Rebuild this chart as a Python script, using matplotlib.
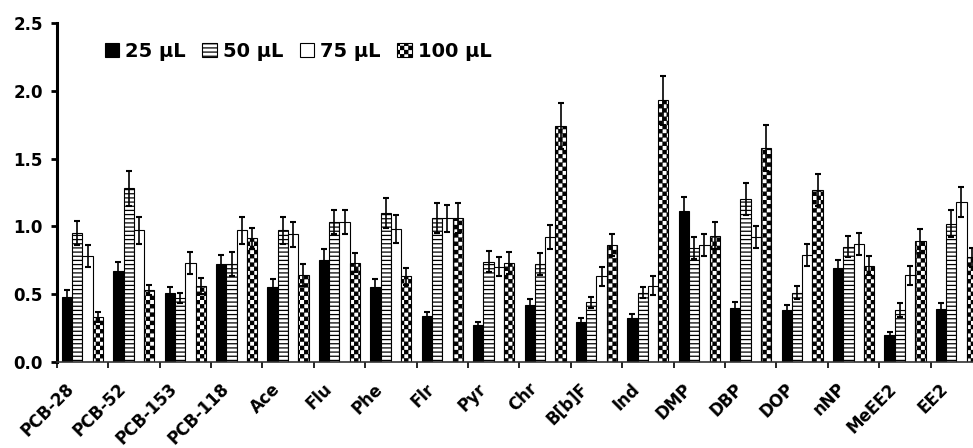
import numpy as np
import matplotlib
matplotlib.use("Agg")
import matplotlib.pyplot as plt
from matplotlib import hatch as mhatch
from matplotlib.path import Path

compounds = ['PCB-28', 'PCB-52', 'PCB-153', 'PCB-118', 'Ace', 'Flu', 'Phe', 'Flr', 'Pyr',
             'Chr', 'B[b]F', 'Ind', 'DMP', 'DBP', 'DOP', 'nNP', 'MeEE2', 'EE2']
volumes = ['25 μL', '50 μL', '75 μL', '100 μL']

vol_25 = [0.48, 0.67, 0.51, 0.72, 0.55, 0.75, 0.55, 0.34, 0.27, 0.42, 0.29, 0.32, 1.11, 0.40, 0.38, 0.69, 0.20, 0.39]
err_25 = [0.05, 0.07, 0.04, 0.07, 0.06, 0.08, 0.06, 0.03, 0.02, 0.04, 0.03, 0.03, 0.11, 0.04, 0.04, 0.06, 0.02, 0.04]
vol_50 = [0.95, 1.28, 0.47, 0.72, 0.97, 1.03, 1.10, 1.06, 0.74, 0.72, 0.44, 0.51, 0.84, 1.20, 0.51, 0.85, 0.38, 1.02]
err_50 = [0.09, 0.13, 0.04, 0.09, 0.10, 0.09, 0.11, 0.11, 0.08, 0.08, 0.04, 0.04, 0.08, 0.12, 0.05, 0.08, 0.05, 0.10]
vol_75 = [0.78, 0.97, 0.73, 0.97, 0.94, 1.03, 0.98, 1.06, 0.70, 0.92, 0.63, 0.56, 0.86, 0.92, 0.79, 0.87, 0.64, 1.18]
err_75 = [0.08, 0.10, 0.08, 0.10, 0.09, 0.09, 0.10, 0.10, 0.07, 0.09, 0.07, 0.07, 0.08, 0.08, 0.08, 0.08, 0.07, 0.11]
vol_100 = [0.33, 0.53, 0.56, 0.91, 0.64, 0.73, 0.63, 1.06, 0.73, 1.74, 0.86, 1.93, 0.93, 1.58, 1.27, 0.71, 0.89, 0.77]
err_100 = [0.04, 0.04, 0.06, 0.08, 0.08, 0.07, 0.06, 0.11, 0.08, 0.17, 0.08, 0.18, 0.10, 0.17, 0.12, 0.07, 0.09, 0.07]


class CheckerHatch(mhatch.HatchPatternBase):
    # checkerboard of filled squares, takes over the '*' hatch character
    inset = 0.12

    def __init__(self, hatch, density):
        self.n = hatch.count('*') * density
        self.num_vertices = 5 * 2 * self.n ** 2

    def set_vertices_and_codes(self, vertices, codes):
        s = 1.0 / (2 * self.n)
        d = s * self.inset
        k = 0
        for r in range(2 * self.n):
            for c in range(2 * self.n):
                if (r + c) % 2:
                    continue
                x0, y0 = c * s + d, r * s + d
                x1, y1 = (c + 1) * s - d, (r + 1) * s - d
                vertices[k:k + 5] = [(x0, y0), (x1, y0), (x1, y1), (x0, y1), (x0, y0)]
                codes[k:k + 5] = [Path.MOVETO, Path.LINETO, Path.LINETO, Path.LINETO, Path.CLOSEPOLY]
                k += 5


mhatch._hatch_types[mhatch._hatch_types.index(mhatch.Stars)] = CheckerHatch

plt.rcParams['font.family'] = 'DejaVu Sans'
plt.rcParams['font.weight'] = 'bold'
plt.rcParams['hatch.linewidth'] = 0.9

fig = plt.figure(figsize=(9.73, 4.48), dpi=100)
ax = fig.add_axes([0.0583, 0.1926, 0.951, 0.7556])

x = np.arange(len(compounds))
w = 0.2
series = [(vol_25, err_25, 'black', ''),
          (vol_50, err_50, 'white', '----'),
          (vol_75, err_75, 'white', ''),
          (vol_100, err_100, 'white', '**')]

for i, (vals, errs, fc, ht) in enumerate(series):
    ax.bar(x + (i - 1.5) * w, vals, w, yerr=errs, color=fc, edgecolor='black',
           linewidth=0.8, hatch=ht, label=volumes[i],
           error_kw=dict(elinewidth=1.2, capsize=2.5, capthick=1.5, ecolor='black'))

ax.set_xlim(-0.5, len(compounds) - 0.5)
ax.set_ylim(0, 2.5)
ax.set_yticks(np.arange(0, 2.51, 0.5))
ax.set_yticklabels(['%.1f' % v for v in np.arange(0, 2.51, 0.5)], fontsize=12)

# label anchors sit a bit left of each group so the slanted text ends near the centre
ax.set_xticks(x - 0.33)
ax.set_xticklabels(compounds, rotation=45, ha='right', va='top',
                   rotation_mode='anchor', fontsize=12)
ax.set_xticks(np.arange(len(compounds) + 1) - 0.5, minor=True)
ax.tick_params(axis='x', which='major', length=0, pad=13)
ax.tick_params(axis='x', which='minor', length=4, width=1.2, direction='out')
ax.tick_params(axis='y', length=4, width=2, direction='out', pad=6)

for side in ['top', 'right']:
    ax.spines[side].set_visible(False)
ax.spines['left'].set_linewidth(2.2)
ax.spines['bottom'].set_linewidth(1.2)
ax.spines['bottom'].set_color('#333333')

ax.legend(ncol=4, frameon=False, loc='upper left', bbox_to_anchor=(0.052, 0.945),
          borderaxespad=0, borderpad=0, handlelength=0.75, handleheight=0.75,
          handletextpad=0.3, columnspacing=0.85, prop=dict(weight='bold', size=14))

fig.savefig('out.png', dpi=100)
